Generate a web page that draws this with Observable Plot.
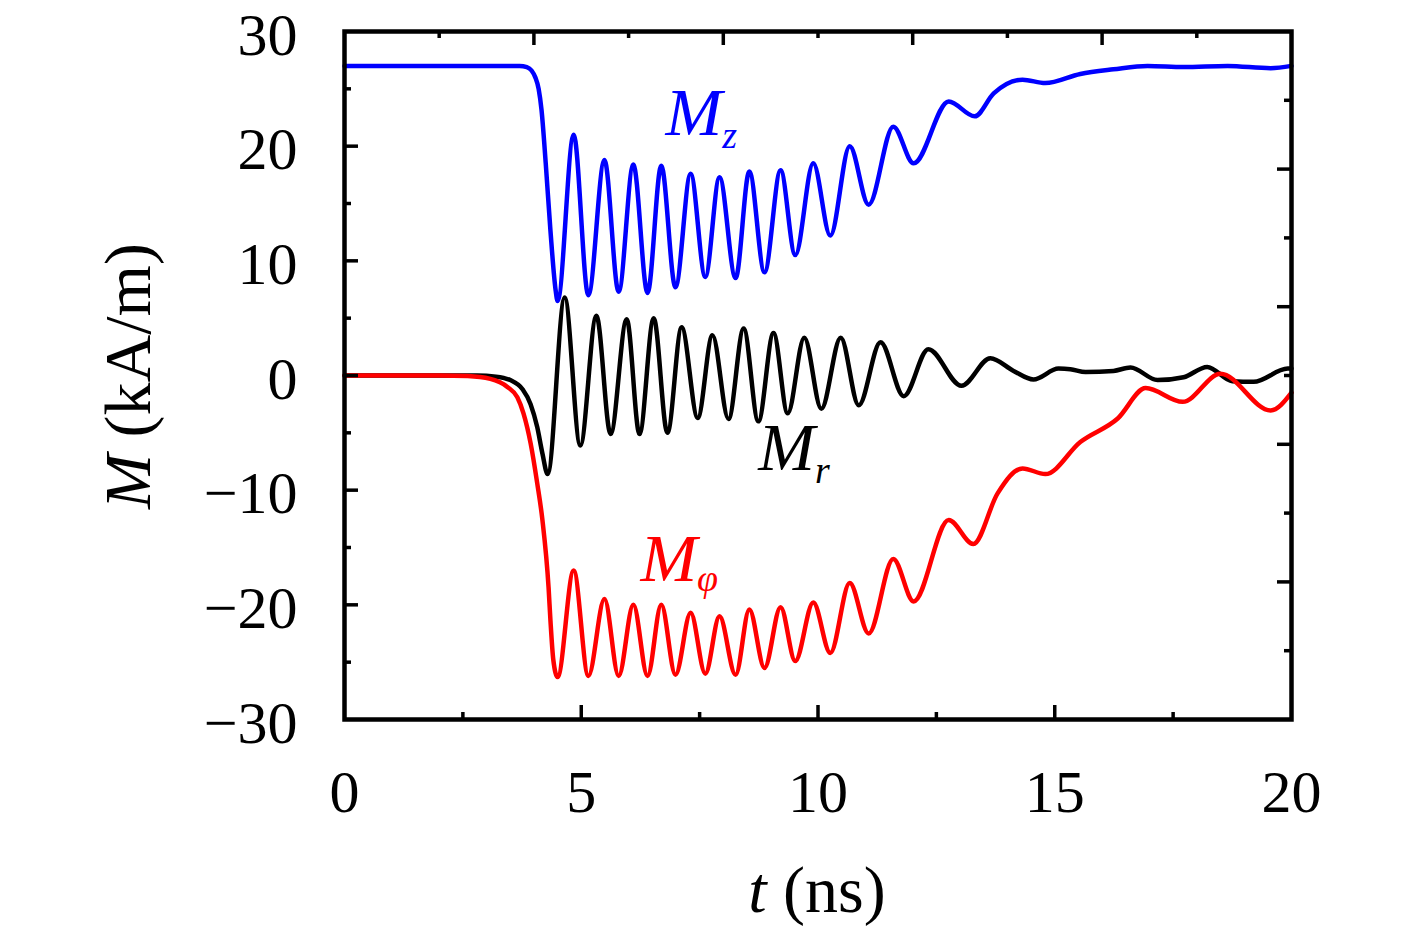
<!DOCTYPE html>
<html>
<head>
<meta charset="utf-8">
<script src="https://cdn.jsdelivr.net/npm/d3@7"></script>
<script src="https://cdn.jsdelivr.net/npm/@observablehq/plot@0.6"></script>
<style>
  html, body { margin: 0; padding: 0; background: #fff; }
  #chart { width: 1417px; height: 932px; }
</style>
</head>
<body>
<div id="chart"></div>
<script>
// ---- Data (t in ns, M in kA/m) ----
const tMz = [0, 1, 2, 3, 3.7, 3.85, 3.95, 4.03, 4.1, 4.16, 4.25, 4.35, 4.46, 4.50, 4.84, 5.15, 5.49, 5.79, 6.10, 6.40, 6.69, 6.99, 7.31, 7.62, 7.92, 8.26, 8.55, 8.87, 9.21, 9.52, 9.90, 10.26, 10.67, 11.07, 11.59, 12.02, 12.76, 13.31, 13.71, 14.32, 14.80, 15.54, 16.24, 16.96, 17.72, 18.65, 19.56, 20];
const vMz = [27, 27, 27, 27, 27, 26.9, 26.6, 26.0, 25.0, 23.2, 18.5, 12.6, 7.4, 6.5, 21.0, 7.0, 18.8, 7.3, 18.4, 7.2, 18.3, 7.7, 17.6, 8.6, 17.3, 8.5, 17.8, 9.0, 17.9, 10.5, 18.5, 12.2, 20.0, 14.9, 21.7, 18.5, 23.9, 22.6, 24.6, 25.8, 25.5, 26.3, 26.7, 27.0, 26.9, 27.0, 26.8, 27.0];

const tMr = [0, 2, 2.8, 3.2, 3.5, 3.76, 3.93, 4.07, 4.18, 4.29, 4.65, 4.98, 5.32, 5.62, 5.96, 6.23, 6.53, 6.82, 7.12, 7.46, 7.77, 8.11, 8.43, 8.74, 9.06, 9.36, 9.71, 10.07, 10.48, 10.86, 11.32, 11.81, 12.33, 13.03, 13.64, 14.13, 14.55, 15.08, 15.33, 15.65, 16.24, 16.60, 17.17, 17.72, 18.22, 18.75, 19.20, 19.92, 20];
const vMr = [0, 0, 0, -0.1, -0.4, -1.2, -2.5, -4.5, -6.8, -8.6, 6.8, -6.1, 5.2, -5.1, 4.9, -5.1, 5.0, -5.0, 4.2, -3.7, 3.5, -3.8, 4.1, -4.0, 3.7, -3.3, 3.3, -2.9, 3.3, -2.6, 2.9, -1.8, 2.3, -0.9, 1.5, 0.4, -0.35, 0.6, 0.55, 0.3, 0.4, 0.7, -0.4, -0.15, 0.75, -0.5, -0.55, 0.6, 0.6];

const tMphi = [0, 2, 2.6, 3.08, 3.44, 3.65, 3.78, 3.93, 4.07, 4.18, 4.31, 4.35, 4.41, 4.50, 4.84, 5.15, 5.49, 5.79, 6.10, 6.40, 6.69, 6.99, 7.31, 7.62, 7.92, 8.26, 8.55, 8.87, 9.21, 9.52, 9.90, 10.26, 10.67, 11.07, 11.59, 12.02, 12.76, 13.28, 13.79, 14.32, 14.80, 15.54, 16.33, 16.92, 17.70, 18.50, 19.56, 20];
const vMphi = [0, 0, -0.05, -0.3, -1.0, -1.9, -3.3, -5.9, -9.4, -12.6, -18.5, -21.4, -24.8, -26.3, -17.0, -26.2, -19.5, -26.2, -20.0, -26.2, -20.0, -26.1, -20.7, -26.0, -21.0, -26.1, -20.4, -25.5, -20.2, -24.9, -19.8, -24.2, -18.1, -22.5, -16.0, -19.7, -12.6, -14.7, -10.3, -8.1, -8.6, -5.8, -3.75, -1.1, -2.3, 0.15, -3.05, -1.5];

// Ticks
const xLabelTicks = [0, 5, 10, 15, 20];
const xBottomMajor = [5, 10, 15];
const xBottomMinor = [2.5, 7.5, 12.5, 17.5];
const xTopMajor = [4, 8, 12, 16];
const xTopMinor = [2, 6, 10, 14, 18];
const yLabelTicks = [-30, -20, -10, 0, 10, 20, 30];
const yLeftMajor = [-20, -10, 0, 10, 20];
const yLeftMinor = [-25, -15, -5, 5, 15, 25];
const yRightMajor = [-18, -6, 6, 18];
const yRightMinor = [-24, -12, 0, 12, 24];

// Curve labels
const labelSub = ["z", "r", "φ"];
const labelT = [6.78, 8.74, 6.25];
const labelV = [21.0, -8.2, -17.9];
const labelColor = ["#0000ff", "#000000", "#ff0000"];

// ---- Layout ----
const W = 1417, H = 932;
const mL = 344, mR = 126, mT = 31, mB = 213;
const innerW = W - mL - mR, innerH = H - mT - mB;
const MAJ = 14, MIN = 7;
const FONT = "'Liberation Serif', 'DejaVu Serif', serif";

const toRows = (ts, vs) => ts.map((t, i) => ({t, v: vs[i]}));
const labels = labelSub.map((s, i) => ({sub: s, t: labelT[i], v: labelV[i], color: labelColor[i]}));
const fmt = d => d < 0 ? "\u2212" + Math.abs(d) : String(d);

const plot = Plot.plot({
  width: W, height: H,
  marginLeft: mL, marginRight: mR, marginTop: mT, marginBottom: mB,
  x: {domain: [0, 20]},
  y: {domain: [-30, 30]},
  style: {fontFamily: FONT, fontSize: "60px", color: "#000", background: "#fff", overflow: "visible"},
  marks: [
    Plot.line(toRows(tMz, vMz), {x: "t", y: "v", stroke: "#0000ff", strokeWidth: 4.5, curve: "monotone-x"}),
    Plot.line(toRows(tMr, vMr), {x: "t", y: "v", stroke: "#000000", strokeWidth: 4.5, curve: "monotone-x"}),
    Plot.line(toRows(tMphi, vMphi), {x: "t", y: "v", stroke: "#ff0000", strokeWidth: 4.5, curve: "monotone-x"}),
    // inward ticks
    Plot.tickX(xBottomMajor, {x: d => d, insetTop: innerH - MAJ, stroke: "#000", strokeWidth: 3.5}),
    Plot.tickX(xBottomMinor, {x: d => d, insetTop: innerH - MIN, stroke: "#000", strokeWidth: 3.5}),
    Plot.tickX(xTopMajor, {x: d => d, insetBottom: innerH - MAJ, stroke: "#000", strokeWidth: 3.5}),
    Plot.tickX(xTopMinor, {x: d => d, insetBottom: innerH - MIN, stroke: "#000", strokeWidth: 3.5}),
    Plot.tickY(yLeftMajor, {y: d => d, insetRight: innerW - MAJ, stroke: "#000", strokeWidth: 3.5}),
    Plot.tickY(yLeftMinor, {y: d => d, insetRight: innerW - MIN, stroke: "#000", strokeWidth: 3.5}),
    Plot.tickY(yRightMajor, {y: d => d, insetLeft: innerW - MAJ, stroke: "#000", strokeWidth: 3.5}),
    Plot.tickY(yRightMinor, {y: d => d, insetLeft: innerW - MIN, stroke: "#000", strokeWidth: 3.5}),
    Plot.frame({stroke: "#000", strokeWidth: 4.5}),
    Plot.axisX({ticks: xLabelTicks, tickSize: 0, tickPadding: 50, tickFormat: fmt, label: null, fontSize: 60}),
    Plot.axisY({ticks: yLabelTicks, tickSize: 0, tickPadding: 47, tickFormat: fmt, label: null, fontSize: 60, dy: 4}),
    Plot.text(labels, {
      x: "t", y: "v", text: () => "M", fill: "color",
      textAnchor: "start", lineAnchor: "bottom",
      fontSize: 68, fontStyle: "italic"
    })
  ]
});

document.getElementById("chart").appendChild(plot);

// subscripts on curve labels
const svg = d3.select(plot);
const labelTexts = svg.selectAll("text").filter(function() { return this.textContent === "M"; });
labelTexts.each(function(_, i) {
  const d = labels[i];
  if (!d) return;
  d3.select(this).append("tspan")
    .attr("dy", d.sub === "φ" ? 10 : 13)
    .attr("font-size", 38)
    .attr("font-style", "italic")
    .text(d.sub);
});

// axis titles
const yl = svg.append("text")
  .attr("transform", "translate(150,376) rotate(-90)")
  .attr("text-anchor", "middle")
  .attr("font-family", FONT)
  .attr("font-size", 66)
  .attr("fill", "#000");
yl.append("tspan").attr("font-style", "italic").text("M");
yl.append("tspan").text(" (kA/m)");

const xl = svg.append("text")
  .attr("x", 817).attr("y", 912)
  .attr("text-anchor", "middle")
  .attr("font-family", FONT)
  .attr("font-size", 66)
  .attr("fill", "#000");
xl.append("tspan").attr("font-style", "italic").text("t");
xl.append("tspan").text(" (ns)");
</script>
</body>
</html>
